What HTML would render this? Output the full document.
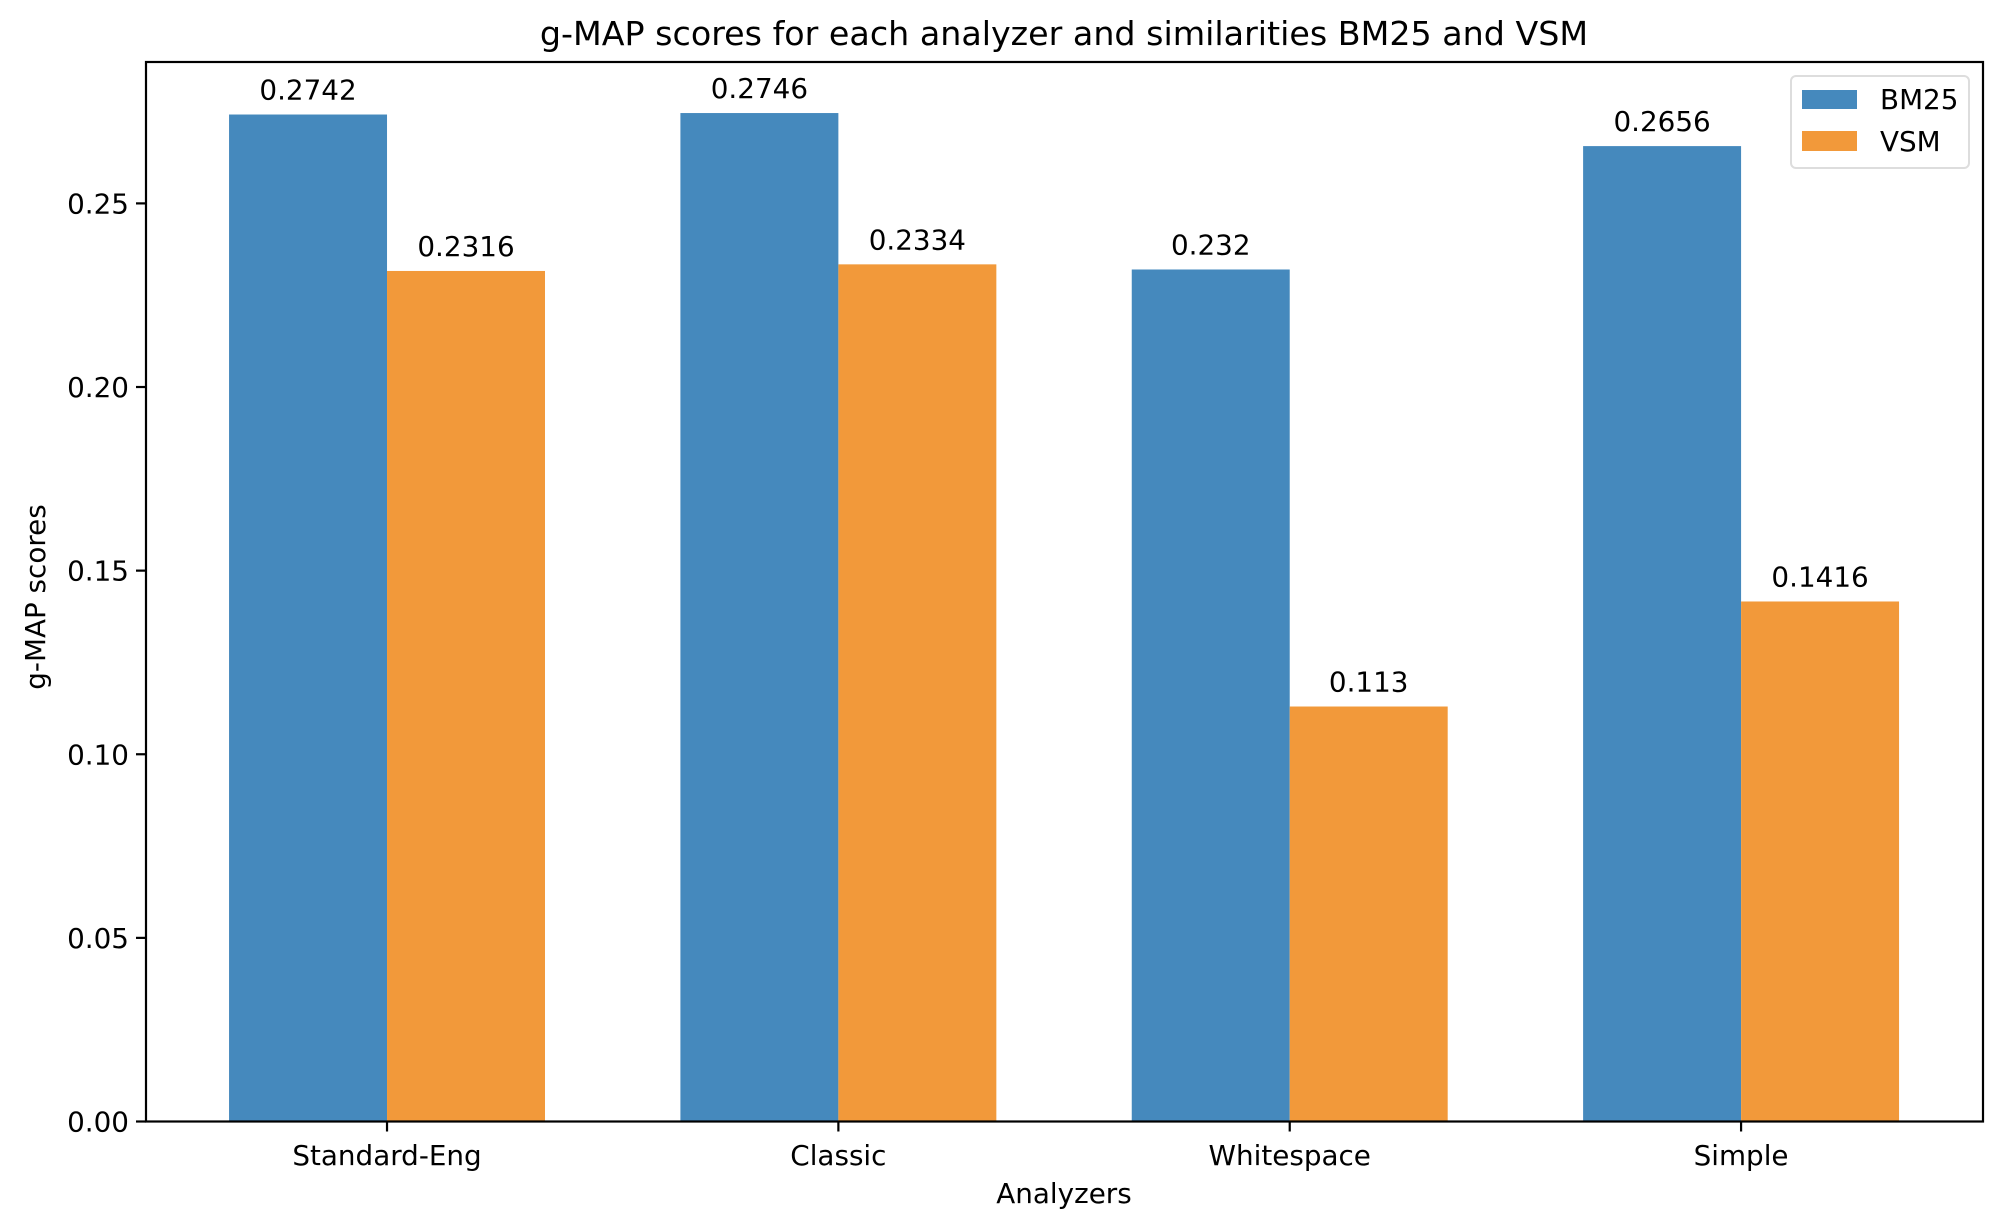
<!DOCTYPE html>
<html><head><meta charset="utf-8"><style>
body{margin:0;background:#fff;}
svg{display:block;font-family:"DejaVu Sans","Liberation Sans",sans-serif;}
</style></head><body>
<svg id="chart" width="2011" height="1221" viewBox="0 0 2011 1221">
<rect width="2011" height="1221" fill="#fff"/>
<text x="1064" y="45" font-size="33.3" text-anchor="middle">g-MAP scores for each analyzer and similarities BM25 and VSM</text>
<g id="bars"></g>
<g id="axes"></g>
<text x="1064" y="1203" font-size="27.8" text-anchor="middle">Analyzers</text>
<text transform="translate(45,597) rotate(-90)" font-size="27.8" text-anchor="middle">g-MAP scores</text>
<g>
<rect x="1791" y="76" width="178" height="92" rx="5" fill="#fff" stroke="#ddd" stroke-width="2"/>
<g><rect x="1802" y="90" width="55" height="19" fill="#4589bd"/><text x="1880" y="109" font-size="27.8">BM25</text></g>
<g><rect x="1802" y="131" width="55" height="20" fill="#f2993a"/><text x="1880" y="151" font-size="27.8">VSM</text></g>
</g>
</svg>
<script>
const categories = ["Standard-Eng","Classic","Whitespace","Simple"];
const bm25 = [0.2742,0.2746,0.232,0.2656];
const vsm = [0.2316,0.2334,0.113,0.1416];
const bm25Labels = ["0.2742","0.2746","0.232","0.2656"];
const vsmLabels = ["0.2316","0.2334","0.113","0.1416"];
const yTicks = [0,0.05,0.10,0.15,0.20,0.25];
const yTickLabels = ["0.00","0.05","0.10","0.15","0.20","0.25"];

const NS="http://www.w3.org/2000/svg";
const L=146,R=1983,T=62,B=1121.5;
const xmin=-0.534,xmax=3.536,ymax=0.2885;
const xs=v=>L+(v-xmin)/(xmax-xmin)*(R-L);
const ys=v=>B-v/ymax*(B-T);
const bw=0.35;
function mk(tag,attrs,parent){const e=document.createElementNS(NS,tag);for(const k in attrs)e.setAttribute(k,attrs[k]);parent.appendChild(e);return e;}
const gb=document.getElementById('bars'), ga=document.getElementById('axes');
categories.forEach((c,i)=>{
  [[bm25,bm25Labels,-1,'#4589bd','bm25'],[vsm,vsmLabels,0,'#f2993a','vsm']].forEach(([arr,lab,off,col,nm])=>{
    const x0=xs(i+off*bw), x1=xs(i+(off+1)*bw), y=ys(arr[i]);
    const r=mk('rect',{x:x0,y:y,width:x1-x0,height:B-y,fill:col},gb);
    
    
    const t=mk('text',{x:(x0+x1)/2,y:y-15,'font-size':27.8,'text-anchor':'middle'},gb);
    t.textContent=lab[i];
    
    
  });
  const cx=xs(i);
  const tk=mk('line',{x1:cx,x2:cx,y1:B,y2:B+10,stroke:'#000','stroke-width':2.2},ga);
  
  
  const tl=mk('text',{x:cx,y:1165,'font-size':27.8,'text-anchor':'middle'},ga);
  tl.textContent=c;
  
  
});
yTicks.forEach((v,i)=>{
  const y=ys(v);
  const tk=mk('line',{x1:L-10,x2:L,y1:y,y2:y,stroke:'#000','stroke-width':2.2},ga);
  
  
  const tl=mk('text',{x:L-17,y:y+10,'font-size':27.8,'text-anchor':'end'},ga);
  tl.textContent=yTickLabels[i];
  
  
});
const fr=mk('rect',{x:L,y:T,width:R-L,height:B-T,fill:'none',stroke:'#000','stroke-width':2.2},ga);


</script>
</body></html>
